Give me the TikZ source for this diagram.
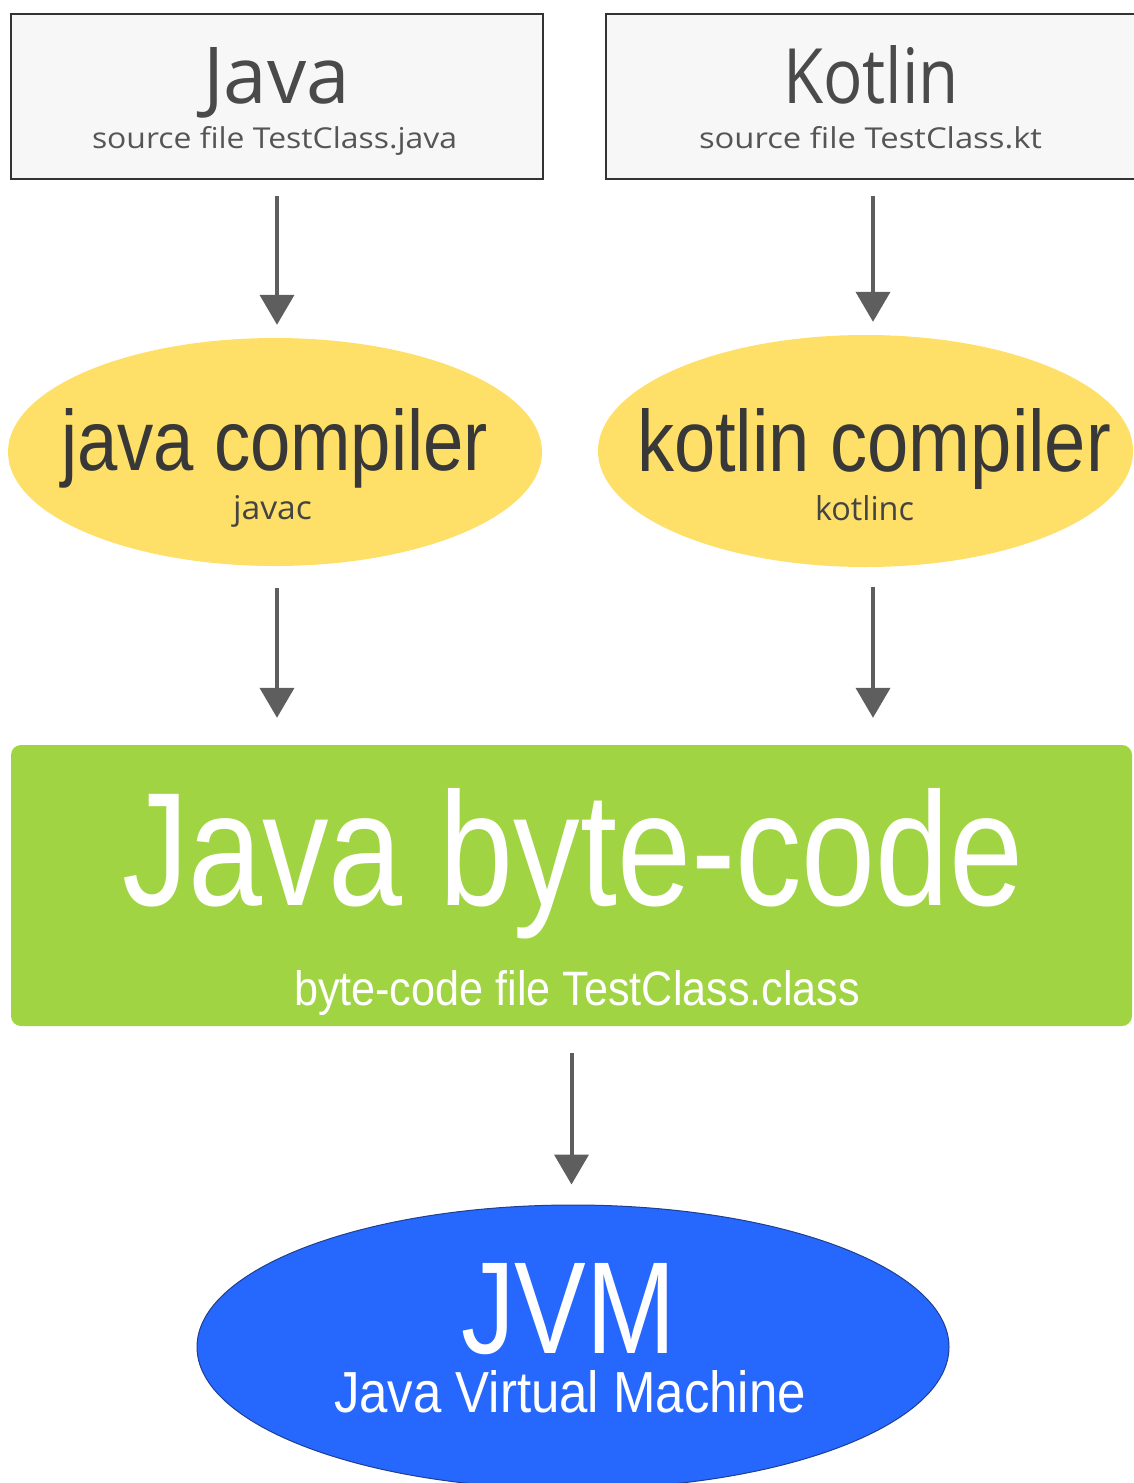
\documentclass[tikz,border=0pt]{standalone}
\usepackage{fontspec}
\usepackage{graphicx}
\setmainfont{Liberation Sans}
\newfontfamily\opensans{Open Sans}
\usetikzlibrary{shapes.geometric,arrows.meta}
\definecolor{boxfill}{HTML}{F7F7F7}
\definecolor{boxline}{HTML}{333333}
\definecolor{compyel}{HTML}{FEDF68}
\definecolor{bcgreen}{HTML}{A0D443}
\definecolor{jvmblue}{HTML}{2667FE}
\definecolor{jvmline}{HTML}{1F3F8F}
\definecolor{arrgray}{HTML}{5E5E5E}
\definecolor{titlegray}{HTML}{4A4A4A}
\definecolor{subgray}{HTML}{555555}
\definecolor{compgray}{HTML}{383838}
\newcommand\fitt[3]{\resizebox{#1pt}{#2pt}{#3}}
\begin{document}
\begin{tikzpicture}[x=1pt,y=1pt,
  srcbox/.style={rectangle,draw=boxline,line width=2.5pt,fill=boxfill,inner sep=0pt},
  compell/.style={ellipse,fill=compyel,draw=none,inner sep=0pt},
  bcbox/.style={rectangle,rounded corners=10pt,fill=bcgreen,draw=none,inner sep=0pt},
  jvmell/.style={ellipse,fill=jvmblue,draw=jvmline,line width=1pt,inner sep=0pt},
  arr/.style={draw=arrgray,line width=4pt,-{Triangle[width=34pt,length=30pt]}},
  txt/.style={anchor=base west,inner sep=0pt,outer sep=0pt}]
\useasboundingbox (0,0) rectangle (1134,-1483);
% shapes
\node[srcbox,minimum width=532pt,minimum height=165pt] (jbox) at (277,-96.5) {};
\node[srcbox,minimum width=534pt,minimum height=165pt] (kbox) at (873,-96.5) {};
\node[compell,minimum width=534pt,minimum height=228pt] (jcomp) at (275,-452) {};
\node[compell,minimum width=535pt,minimum height=232pt] (kcomp) at (865.5,-451) {};
\node[bcbox,minimum width=1121pt,minimum height=281pt] (bc) at (571.5,-885.5) {};
\node[jvmell,minimum width=752pt,minimum height=284pt] (jvm) at (573,-1347) {};
% texts
\node[txt,text=titlegray] (tjava) at (203,-103) {\fitt{147}{56}{\opensans Java}};
\node[txt,text=subgray] (tjsrc) at (92,-148) {\fitt{365}{22}{\opensans source file TestClass.java}};
\node[txt,text=titlegray] (tkotlin) at (783,-103) {\fitt{176}{58}{\opensans Kotlin}};
\node[txt,text=subgray] (tksrc) at (699,-148) {\fitt{343}{22}{\opensans source file TestClass.kt}};
\node[txt,text=compgray] (tjc) at (61,-470) {\fitt{427}{62}{java compiler}};
\node[txt,text=subgray!80!black] (tjavac) at (233,-519) {\fitt{79}{24}{\opensans javac}};
\node[txt,text=compgray] (tkc) at (637,-471) {\fitt{474}{63}{kotlin compiler}};
\node[txt,text=subgray!80!black] (tkotlinc) at (815,-520) {\fitt{99}{25}{\opensans kotlinc}};
\node[txt,text=white] (tbc) at (122,-905) {\fitt{902}{117}{Java byte-code}};
\node[txt,text=white] (tbcf) at (294,-1005) {\fitt{566}{35}{byte-code file TestClass.class}};
\node[txt,text=white] (tjvm) at (461,-1353) {\fitt{215}{90}{JVM}};
\node[txt,text=white] (tjvmf) at (334,-1412) {\fitt{472}{42}{Java Virtual Machine}};
% connectors
\draw[arr,shorten <=16pt,shorten >=13pt] (jbox.south) -- (jbox.south |- jcomp.north);
\draw[arr,shorten <=16pt,shorten >=13pt] (kbox.south) -- (kbox.south |- kcomp.north);
\draw[arr,shorten <=22pt,shorten >=27pt] (jcomp.south -| jbox.south) -- (bc.north -| jbox.south);
\draw[arr,shorten <=20pt,shorten >=27pt] (kcomp.south -| kbox.south) -- (bc.north -| kbox.south);
\draw[arr,shorten <=27pt,shorten >=20pt] (bc.south) -- (bc.south |- jvm.north);
\end{tikzpicture}
\end{document}
